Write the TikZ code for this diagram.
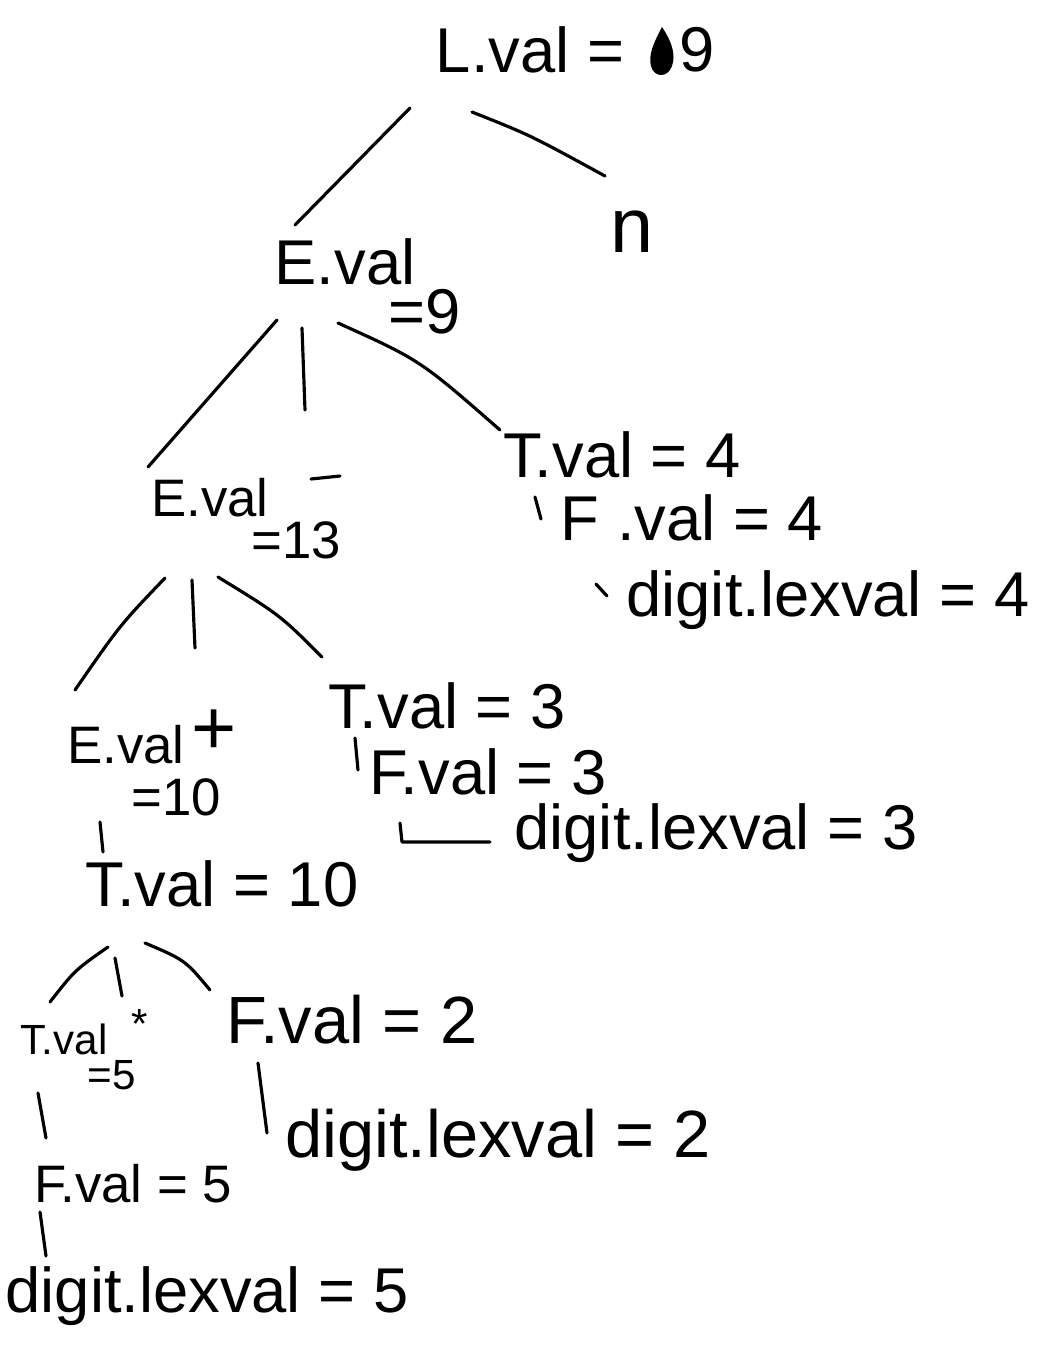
\documentclass[tikz,border=0pt]{standalone}
\usepackage{fontspec}
\setmainfont{Liberation Sans}
\begin{document}
\begin{tikzpicture}[x=0.01cm,y=-0.01cm,
  line width=0.9pt, line cap=round, line join=round,
  lbl/.style={inner sep=0pt, anchor=center, font=\fontsize{18}{20}\selectfont},
  mid/.style={lbl, font=\fontsize{15}{17}\selectfont},
  sml/.style={lbl, font=\fontsize{12}{14}\selectfont},
  big/.style={lbl, font=\fontsize{19}{21}\selectfont}]
\useasboundingbox (0,0) rectangle (1047,1350);

% root
\node[lbl] (L) at (530,50) {L.val =};
\node[lbl] (L9) at (697,50) {9};
\fill (662,27) .. controls (672,42) and (676,55) .. (672,66)
      .. controls (668,78) and (654,78) .. (651,66)
      .. controls (648,55) and (654,42) .. (662,27) -- cycle;
\node[lbl, font=\fontsize{22}{24}\selectfont] (n) at (632,232) {n};

% E.val = 9
\node[lbl] (E9) at (345,262) {E.val};
\node[lbl] (E9v) at (425,312) {=9};
% minus sign between the E and T subtrees
\coordinate (mn1) at (311,479); \coordinate (mn2) at (340,476);
\draw (mn1) -- (mn2);

% T.val = 4 branch
\node[lbl] (T4) at (622,455) {T.val = 4};
\node[lbl] (F4) at (692,518) {F .val = 4};
\node[lbl] (D4) at (828,600) {digit.lexval = 4};

% E.val = 13
\node[mid] (E13) at (210,498) {E.val};
\node[mid] (E13v) at (296,540) {=13};

% T.val = 3 branch
\node[lbl] (T3) at (447,706) {T.val = 3};
\node[lbl] (F3) at (488,772) {F.val = 3};
\node[lbl] (D3) at (716,833) {digit.lexval = 3};

% E.val = 10
\node[mid] (E10) at (126,745) {E.val};
\node[mid] (E10v) at (176,797) {=10};
\node[lbl, font=\fontsize{22}{24}\selectfont] (plus) at (214,732) {+};

% T.val = 10
\node[lbl] (T10) at (222,884) {T.val = 10};

% T.val = 5, *
\node[sml] (T5) at (64,1039) {T.val};
\node[sml] (T5v) at (112,1075) {=5};
\node[sml] (star) at (140,1024) {*};

% F.val = 2
\node[big] (F2) at (352,1020) {F.val = 2};
\node[big] (D2) at (498,1140) {digit.lexval = 2};

% F.val = 5
\node[mid] (F5) at (133,1184) {F.val = 5};
\node[lbl] (D5) at (207,1296) {digit.lexval = 5};

% connectors
\coordinate (a1) at (410,108); \coordinate (a2) at (295,225);
\draw (a1) -- (a2);
\coordinate (b1) at (472,112); \coordinate (b2) at (605,176);
\draw (b1) .. controls (530,135) .. (b2);
\coordinate (c1) at (277,320); \coordinate (c2) at (148,467);
\draw (c1) -- (c2);
\coordinate (d1) at (302,328); \coordinate (d2) at (305,410);
\draw (d1) -- (d2);
\coordinate (e1) at (338,323); \coordinate (e2) at (500,430);
\draw (e1) .. controls (420,360) .. (e2);
\coordinate (f1) at (535,497); \coordinate (f2) at (541,519);
\draw (f1) -- (f2);
\coordinate (g1) at (596,584); \coordinate (g2) at (607,596);
\draw (g1) -- (g2);
\coordinate (h1) at (165,578); \coordinate (h2) at (75,690);
\draw (h1) .. controls (120,625) .. (h2);
\coordinate (i1) at (192,580); \coordinate (i2) at (195,648);
\draw (i1) -- (i2);
\coordinate (j1) at (218,577); \coordinate (j2) at (322,657);
\draw (j1) .. controls (280,615) .. (j2);
\coordinate (k1) at (355,738); \coordinate (k2) at (358,770);
\draw (k1) -- (k2);
\coordinate (l1) at (400,823); \coordinate (l2) at (490,842);
\draw (l1) -- (402,842) -- (l2);
\coordinate (m1) at (100,822); \coordinate (m2) at (103,852);
\draw (m1) -- (m2);
\coordinate (o1) at (108,947); \coordinate (o2) at (50,1002);
\draw (o1) .. controls (75,970) .. (o2);
\coordinate (p1) at (115,958); \coordinate (p2) at (122,996);
\draw (p1) -- (p2);
\coordinate (q1) at (145,943); \coordinate (q2) at (210,990);
\draw (q1) .. controls (185,960) .. (q2);
\coordinate (r1) at (38,1093); \coordinate (r2) at (46,1138);
\draw (r1) -- (r2);
\coordinate (s1) at (258,1063); \coordinate (s2) at (267,1133);
\draw (s1) -- (s2);
\coordinate (t1) at (40,1212); \coordinate (t2) at (46,1256);
\draw (t1) -- (t2);
\end{tikzpicture}
\end{document}
